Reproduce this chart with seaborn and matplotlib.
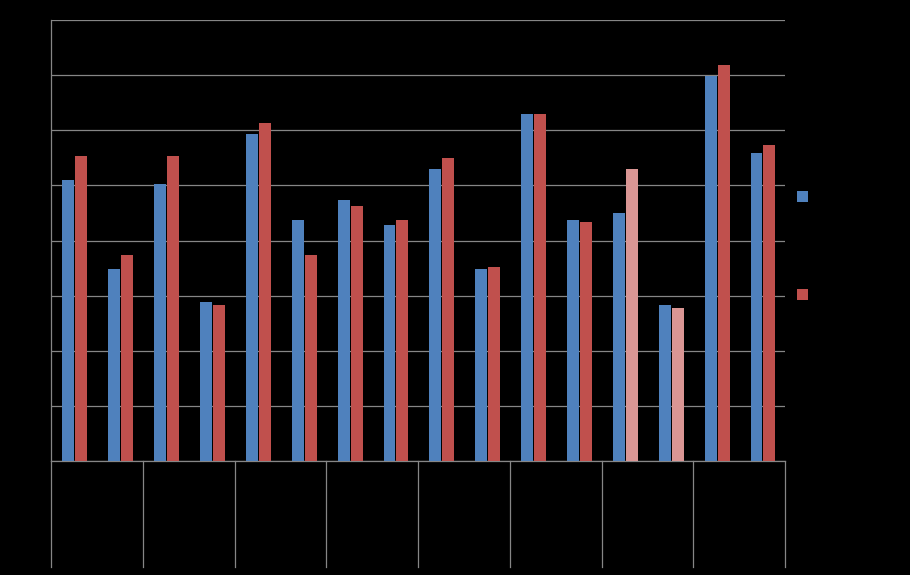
import matplotlib
matplotlib.use("Agg")
import matplotlib.pyplot as plt
import seaborn as sns
import pandas as pd
from matplotlib.patches import Patch
from matplotlib.transforms import blended_transform_factory

# ---- data ----
categories = ["A1", "A2", "B1", "B2", "C1", "C2", "D1", "D2",
              "E1", "E2", "F1", "F2", "G1", "G2", "H1", "H2"]
groups = ["Group A", "Group B", "Group C", "Group D",
          "Group E", "Group F", "Group G", "Group H"]
series_names = ["Series 1", "Series 2"]
series1 = [50.9, 34.9, 50.3, 28.9, 59.4, 43.8, 47.4, 42.9,
           52.9, 34.9, 62.9, 43.8, 44.9, 28.3, 69.9, 55.9]
series2 = [55.4, 37.4, 55.4, 28.3, 61.4, 37.4, 46.3, 43.8,
           54.9, 35.2, 62.9, 43.4, 52.9, 27.8, 71.9, 57.4]
highlight_idx = [12, 13]
y_ticks = [0, 10, 20, 30, 40, 50, 60, 70, 80]

BLUE = "#4F81BD"
RED = "#C0504D"
LIGHT_RED = "#DA9694"
GRID = "#868686"

df = pd.DataFrame({
    "category": categories * 2,
    "value": series1 + series2,
    "series": [series_names[0]] * len(categories) + [series_names[1]] * len(categories),
})

fig = plt.figure(figsize=(9.1, 5.75), dpi=100, facecolor="black")
W, H = 910, 575
ax = fig.add_axes([51 / W, 1 - 461 / H, 734 / W, 441 / H])
ax.set_facecolor("black")

sns.barplot(data=df, x="category", y="value", hue="series", order=categories,
            hue_order=series_names, palette=[BLUE, RED], width=0.566, gap=0.08,
            saturation=1, legend=False, ax=ax, zorder=3, edgecolor="none")

for i in highlight_idx:
    ax.containers[1][i].set_facecolor(LIGHT_RED)

ax.set_xlim(-0.52, len(categories) - 0.52)
ax.set_ylim(0, 80)
ax.set_yticks(y_ticks)
ax.set_yticklabels([str(t) for t in y_ticks], color="black", fontsize=10)
ax.set_xticks(range(len(categories)))
ax.set_xticklabels(categories, color="black", fontsize=10)
ax.tick_params(length=0)
ax.set_xlabel("")
ax.set_ylabel("")
ax.grid(axis="y", color=GRID, lw=0.9, zorder=0)
ax.set_axisbelow(True)
for s in ["top", "right"]:
    ax.spines[s].set_visible(False)
for s in ["left", "bottom"]:
    ax.spines[s].set_color(GRID)
    ax.spines[s].set_linewidth(0.9)

# group separators below the axis
trans = blended_transform_factory(ax.transData, ax.transAxes)
for k in range(len(groups) + 1):
    x = -0.52 + 2 * k
    ax.plot([x, x], [0, -106 / 441], transform=trans, color=GRID, lw=0.9,
            clip_on=False)
for k, g in enumerate(groups):
    ax.text(2 * k + 0.48, -0.2, g, transform=trans, ha="center", va="center",
            color="black", fontsize=10)

handles = [Patch(facecolor=BLUE), Patch(facecolor=RED)]
fig.legend(handles, series_names, loc="upper left",
           bbox_to_anchor=(784 / W, 1 - 178 / H), frameon=False,
           handlelength=0.8, handleheight=0.85, labelspacing=6.05,
           labelcolor="black", fontsize=10, handletextpad=0.5)

fig.savefig("out.png", dpi=100, facecolor="black")
